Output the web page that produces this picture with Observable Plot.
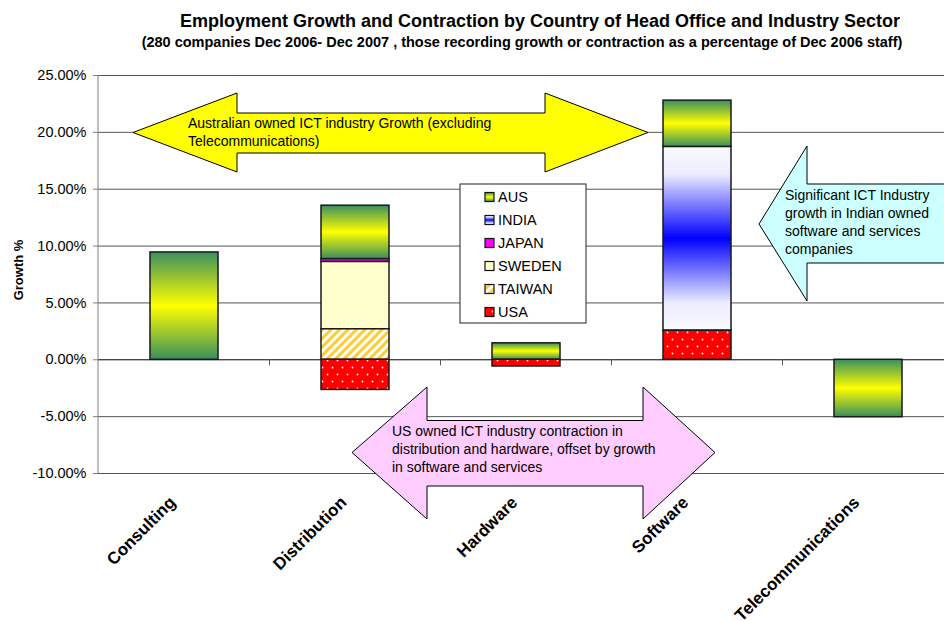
<!DOCTYPE html>
<html><head><meta charset="utf-8">
<script src="https://cdn.jsdelivr.net/npm/d3@7"></script>
<script src="https://cdn.jsdelivr.net/npm/@observablehq/plot@0.6"></script>
<style>
body{margin:0;background:#fff;width:944px;height:621px;overflow:hidden;font-family:"Liberation Sans",Arial,sans-serif;}
#head{position:relative;height:56px;width:944px;}
#title{position:absolute;left:0;top:12px;width:944px;padding-left:136px;box-sizing:border-box;text-align:center;font-weight:bold;font-size:18px;line-height:18px;white-space:nowrap;color:#000;}
#subtitle{position:absolute;left:0;top:35px;width:944px;padding-left:100px;box-sizing:border-box;text-align:center;font-weight:bold;font-size:14.5px;line-height:14.5px;white-space:nowrap;color:#000;}
#chart{width:944px;height:565px;overflow:hidden;}
</style></head>
<body>
<div id="head">
  <div id="title">Employment Growth and Contraction by Country of Head Office and Industry Sector</div>
  <div id="subtitle">(280 companies Dec 2006- Dec 2007 , those recording growth or contraction as a percentage of Dec 2006 staff)</div>
</div>
<div id="chart"></div>
<script>
// ---- data (percent) ----
const categories = ["Consulting", "Distribution", "Hardware", "Software", "Telecommunications"];
const countries = ["AUS", "INDIA", "JAPAN", "SWEDEN", "TAIWAN", "USA"];
const aus    = [9.44, 4.70, 1.45, 4.08, -5.05];
const india  = [0, 0, 0, 16.15, 0];
const japan  = [0, 0.25, 0, 0, 0];
const sweden = [0, 5.92, 0, 0, 0];
const taiwan = [0, 2.68, 0, 0, 0];
const usa    = [0, -2.65, -0.59, 2.56, 0];
const yTicks = [-10, -5, 0, 5, 10, 15, 20, 25];
const stackOrder = ["USA", "TAIWAN", "SWEDEN", "JAPAN", "INDIA", "AUS"];
const fills = ["url(#p-aus)", "url(#p-india)", "#ff00ff", "#ffffcc", "url(#p-taiwan)", "url(#p-usa)"];

const seriesValues = {AUS: aus, INDIA: india, JAPAN: japan, SWEDEN: sweden, TAIWAN: taiwan, USA: usa};
const rows = [];
for (const c of countries) {
  seriesValues[c].forEach((v, i) => { if (v !== 0) rows.push({category: categories[i], country: c, value: v}); });
}

const fmt = d => d.toFixed(2) + "%";

const chart = Plot.plot({
  width: 944,
  height: 565,
  marginTop: 19,
  marginBottom: 148,
  marginLeft: 98,
  marginRight: 0,
  style: {fontFamily: '"Liberation Sans", Arial, sans-serif', fontSize: "14.5px", color: "#000", background: "#fff"},
  x: {domain: categories, range: [98, 955], paddingInner: 0.6, paddingOuter: 0.3, axis: null},
  y: {domain: [-10, 25], ticks: yTicks, tickFormat: fmt, tickSize: 5, tickPadding: 7, label: null},
  color: {domain: countries, range: fills},
  marks: [
    Plot.ruleY(yTicks, {stroke: d => d === 0 ? "#000" : "#555", strokeWidth: 1}),
    Plot.barY(rows, {x: "category", y: "value", fill: "country", z: "country", order: stackOrder, stroke: "#1a1a1a", strokeWidth: 1.5}),
    Plot.text(categories, {x: d => d, frameAnchor: "bottom", dy: 30, dx: -8, rotate: -45, textAnchor: "end", fontWeight: "bold", fontSize: 17, fill: "#000"})
  ]
});
document.getElementById("chart").appendChild(chart);

const svg = d3.select(chart);
svg.style("overflow", "hidden");
const defs = svg.insert("defs", ":first-child");
function vgrad(id, stops) {
  const g = defs.append("linearGradient").attr("id", id).attr("x1", 0).attr("y1", 0).attr("x2", 0).attr("y2", 1);
  stops.forEach(([o, c]) => g.append("stop").attr("offset", o).attr("stop-color", c));
}
vgrad("p-aus", [[0, "#3a8f5f"], [0.5, "#ffff00"], [1, "#3a8f5f"]]);
vgrad("p-india", [[0, "#fafaff"], [0.15, "#ececff"], [0.5, "#0000ff"], [0.85, "#ececff"], [1, "#fafaff"]]);
const pt = defs.append("pattern").attr("id", "p-taiwan").attr("patternUnits", "userSpaceOnUse")
  .attr("width", 6).attr("height", 6).attr("patternTransform", "rotate(45)");
pt.append("rect").attr("width", 6).attr("height", 6).attr("fill", "#ffffff");
pt.append("rect").attr("width", 3).attr("height", 6).attr("fill", "#ffcc33");
const pu = defs.append("pattern").attr("id", "p-usa").attr("patternUnits", "userSpaceOnUse")
  .attr("width", 10).attr("height", 14);
pu.append("rect").attr("width", 10).attr("height", 14).attr("fill", "#ff0000");
pu.append("circle").attr("cx", 2.5).attr("cy", 3.5).attr("r", 0.9).attr("fill", "#fff");
pu.append("circle").attr("cx", 7.5).attr("cy", 10.5).attr("r", 0.9).attr("fill", "#fff");

// axis styling
svg.selectAll('g[aria-label="y-axis tick"] path').attr("stroke", "#808080");

const xs = chart.scale("x");
const ys = chart.scale("y");
const OY = 56;
const ann = svg.append("g").attr("transform", `translate(0,${-OY})`).attr("text-anchor", "start");
const y0 = ys.apply(0) + OY;
// y axis line
ann.append("line").attr("x1", 98).attr("x2", 98).attr("y1", ys.apply(25) + OY).attr("y2", ys.apply(-10) + OY).attr("stroke", "#808080");
// category boundary ticks
const step = xs.step, bw = xs.bandwidth;
categories.forEach((c, i) => {
  if (i === 0) return;
  const bx = xs.apply(c) - (step - bw) / 2;
  ann.append("line").attr("x1", bx).attr("x2", bx).attr("y1", y0).attr("y2", y0 + 6).attr("stroke", "#555");
});

// y label
ann.append("text").attr("transform", "translate(23,270) rotate(-90)").attr("text-anchor", "middle")
  .attr("font-weight", "bold").attr("font-size", 13).attr("fill", "#000").text("Growth %");

// legend
const lg = ann.append("g");
lg.append("rect").attr("x", 460).attr("y", 184).attr("width", 126).attr("height", 139).attr("fill", "#fff").attr("stroke", "#222");
countries.forEach((c, i) => {
  const cy = 197 + i * 23;
  lg.append("rect").attr("x", 485).attr("y", cy - 4.5).attr("width", 9).attr("height", 9).attr("fill", fills[i]).attr("stroke", "#111").attr("stroke-width", 1.2);
  lg.append("text").attr("x", 498).attr("y", cy + 5).attr("text-anchor", "start").attr("font-size", 14.5).attr("fill", "#000").text(c);
});

// annotation arrows
function poly(pts, fill) {
  ann.append("polygon").attr("points", pts.map(p => p.join(",")).join(" ")).attr("fill", fill).attr("stroke", "#000").attr("stroke-width", 1);
}
function lines(x, y, dy, arr) {
  const t = ann.append("text").attr("font-size", 14).attr("text-anchor", "start").attr("fill", "#000");
  arr.forEach((s, i) => t.append("tspan").attr("x", x).attr("y", y + i * dy).text(s));
}
poly([[133,132.5],[237,93],[237,113],[545,113],[545,93],[648,132.5],[545,172],[545,153],[237,153],[237,172]], "#ffff00");
lines(188, 127.5, 18, ["Australian owned ICT industry Growth (excluding", "Telecommunications)"]);
poly([[759,224],[807,146],[807,184],[960,184],[960,263],[807,263],[807,301]], "#ccffff");
lines(785, 199.5, 18.3, ["Significant ICT Industry", "growth in Indian owned", "software and services", "companies"]);
poly([[352,452.5],[427,387],[427,420.5],[643,420.5],[643,387],[715,452.5],[643,519],[643,486],[427,486],[427,519]], "#ffccff");
lines(392, 435.7, 18, ["US owned ICT industry contraction in", "distribution and hardware, offset by growth", "in software and services"]);
</script>
</body></html>
